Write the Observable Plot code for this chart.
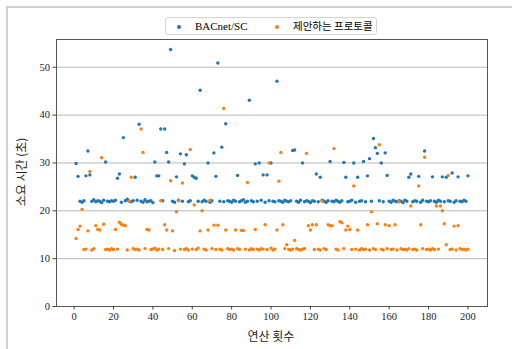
<!DOCTYPE html>
<html>
<head>
<meta charset="utf-8">
<script src="https://cdn.jsdelivr.net/npm/d3@7"></script>
<script src="https://cdn.jsdelivr.net/npm/@observablehq/plot@0.6"></script>
<style>
  html, body { margin: 0; padding: 0; background: #fff; }
  #wrap { position: relative; width: 512px; height: 349px; overflow: hidden; }
  #border { position: absolute; left: 6px; top: 6px; width: 600px; height: 400px; border-left: 2px solid #d0d0d0; border-top: 2px solid #d0d0d0; box-sizing: border-box; }
  #legend { position: absolute; left: 165px; top: 17px; width: 212px; height: 18px; border: 1px solid #d4d4d4; border-radius: 3px; background: #fff; box-sizing: border-box; font-size: 11px; }
  #legend .dot { position: absolute; top: 7px; width: 4px; height: 4px; border-radius: 50%; }
  #legend .lab { position: absolute; top: 1px; line-height: 14px; white-space: nowrap; }
  .xlab { position: absolute; left: 0; width: 542px; top: 327px; text-align: center; font-family: "Noto Sans CJK KR", sans-serif; font-size: 12px; color: #222; }
  .ylab { position: absolute; left: 20px; top: 172px; transform: translate(-50%, -50%) rotate(-90deg); font-family: "Noto Sans CJK KR", sans-serif; font-size: 12px; color: #222; white-space: nowrap; }
  svg { position: absolute; left: 0; top: 0; }
</style>
</head>
<body>
<div id="wrap">
  <div id="border"></div>
  <div id="chart"></div>
  <div id="legend"></div>
  <div class="xlab" id="xlab"></div>
  <div class="ylab" id="ylab"></div>
</div>
<script>
const seriesNames = ["BACnet/SC", "제안하는 프로토콜"];
const seriesColors = ["#1f77b4", "#ff7f0e"];
const xLabel = "연산 횟수";
const yLabel = "소요 시간 (초)";
const xTicks = [0, 20, 40, 60, 80, 100, 120, 140, 160, 180, 200];
const yTicks = [0, 10, 20, 30, 40, 50];

const bacnet = [
  29.9, 27.2, 22.0, 21.8, 22.1, 27.3, 32.5, 27.5, 22.0, 22.3,
  21.9, 22.1, 22.0, 21.7, 22.2, 30.2, 22.0, 21.9, 22.1, 22.0,
  22.2, 26.8, 27.7, 21.8, 35.3, 22.1, 22.4, 22.0, 21.9, 22.1,
  27.0, 22.2, 38.1, 22.0, 21.8, 22.3, 21.9, 22.0, 22.1, 21.7,
  30.2, 27.3, 27.3, 37.1, 22.1, 37.1, 32.2, 30.2, 53.7, 22.0,
  21.8, 27.1, 22.2, 31.9, 22.0, 29.8, 31.7, 21.9, 22.1, 27.3,
  27.0, 26.8, 22.0, 45.2, 21.9, 22.2, 22.0, 30.0, 21.8, 22.1,
  32.1, 27.2, 50.9, 22.0, 33.3, 21.9, 38.2, 22.1, 22.0, 21.8,
  22.2, 22.0, 27.4, 21.9, 22.1, 22.3, 21.8, 22.0, 43.1, 22.1,
  21.9, 29.8, 22.0, 30.0, 22.2, 27.5, 21.8, 27.5, 22.1, 30.0,
  22.0, 21.9, 47.1, 22.1, 22.0, 21.8, 22.2, 22.0, 21.9, 22.1,
  32.6, 32.7, 22.0, 21.8, 22.2, 30.0, 21.9, 22.1, 22.0, 21.7,
  22.1, 22.0, 27.7, 21.9, 27.0, 22.2, 22.0, 21.8, 22.1, 30.3,
  22.0, 21.9, 22.2, 22.0, 21.8, 22.1, 30.1, 27.0, 21.9, 22.0,
  22.2, 30.0, 21.8, 27.0, 22.0, 22.1, 30.3, 21.9, 27.3, 30.9,
  22.0, 35.1, 33.2, 32.0, 22.1, 30.0, 21.9, 32.1, 27.4, 22.0,
  21.8, 22.2, 22.0, 21.9, 22.1, 22.0, 21.7, 22.2, 22.0, 27.0,
  27.7, 21.9, 22.1, 22.0, 27.2, 21.8, 22.2, 32.5, 22.0, 21.9,
  22.1, 27.1, 22.0, 21.8, 22.2, 22.0, 27.1, 21.9, 27.0, 22.1,
  22.0, 27.9, 21.8, 22.1, 27.1, 22.0, 21.9, 22.2, 22.0, 27.3
];

const proposed = [
  14.2, 16.1, 16.8, 20.3, 11.9, 12.0, 15.8, 28.2, 11.8, 12.1,
  16.9, 16.1, 16.0, 31.1, 17.2, 11.9, 12.0, 11.8, 12.1, 11.9,
  16.1, 12.0, 17.6, 17.2, 17.0, 16.9, 11.8, 22.0, 27.0, 12.1,
  11.9, 12.0, 11.8, 37.1, 32.2, 12.1, 16.1, 16.0, 11.9, 12.0,
  12.2, 11.8, 12.0, 22.1, 11.9, 17.1, 16.0, 12.1, 26.3, 15.8,
  11.7, 19.8, 22.1, 12.0, 25.8, 11.9, 12.1, 11.8, 32.8, 12.0,
  21.2, 11.9, 12.2, 15.8, 20.0, 12.0, 11.8, 16.0, 22.2, 12.1,
  17.0, 11.9, 17.0, 12.0, 11.8, 41.4, 16.0, 12.1, 11.9, 12.0,
  11.8, 16.0, 12.1, 11.9, 15.9, 15.9, 12.0, 25.9, 11.8, 12.1,
  11.9, 16.1, 12.0, 11.8, 12.1, 12.0, 17.1, 11.9, 30.0, 12.2,
  11.8, 12.0, 16.0, 26.2, 32.2, 17.1, 12.1, 12.9, 11.9, 11.8,
  12.0, 13.8, 12.1, 11.9, 11.8, 12.0, 12.1, 32.0, 16.9, 16.0,
  17.1, 11.9, 17.1, 12.0, 11.8, 22.0, 12.1, 11.9, 17.1, 16.9,
  16.9, 33.0, 12.0, 11.8, 17.7, 17.5, 12.1, 16.0, 16.8, 16.1,
  11.9, 25.2, 12.0, 16.0, 11.8, 12.1, 11.9, 12.0, 17.1, 11.8,
  19.8, 12.1, 11.9, 17.3, 33.8, 12.0, 11.8, 17.1, 12.1, 16.9,
  11.9, 12.0, 17.1, 11.8, 21.9, 12.1, 11.9, 12.0, 11.8, 12.1,
  21.0, 11.9, 12.0, 11.8, 25.2, 17.1, 12.1, 31.2, 11.9, 12.0,
  11.8, 12.1, 11.9, 21.0, 12.0, 21.0, 20.0, 17.3, 12.9, 27.4,
  11.9, 12.0, 16.8, 11.8, 16.9, 12.1, 11.9, 12.0, 11.8, 12.0
];

const rowsA = bacnet.map((v, i) => ({x: i + 1, y: v}));
const rowsB = proposed.map((v, i) => ({x: i + 1, y: v}));

const chart = Plot.plot({
  width: 512,
  height: 349,
  marginTop: 39,
  marginBottom: 43,
  marginLeft: 56,
  marginRight: 25,
  style: {fontFamily: "'Liberation Serif', serif", fontSize: "10.5px", color: "#222", background: "transparent"},
  x: {domain: [-8.95, 209.95]},
  y: {domain: [0, 55.8]},
  marks: [
    Plot.gridY(yTicks, {stroke: "#b0b0b0", strokeOpacity: 1, strokeWidth: 0.9}),
    Plot.dot(rowsA, {x: "x", y: "y", r: 1.7, fill: seriesColors[0], stroke: null}),
    Plot.dot(rowsB, {x: "x", y: "y", r: 1.7, fill: seriesColors[1], stroke: null}),
    Plot.frame({stroke: "#555", strokeWidth: 1}),
    Plot.axisX(xTicks, {tickSize: 3.5, tickPadding: 3, label: null, stroke: "#444"}),
    Plot.axisY(yTicks, {tickSize: 3.5, tickPadding: 3, label: null, stroke: "#444"})
  ]
});
document.getElementById("chart").appendChild(chart);

const legend = document.getElementById("legend");
const lpos = [[11, 29], [109, 127]];
seriesNames.forEach((name, i) => {
  const d = document.createElement("div");
  d.className = "dot";
  d.style.left = lpos[i][0] + "px";
  d.style.background = seriesColors[i];
  legend.appendChild(d);
  const t = document.createElement("div");
  t.className = "lab";
  t.style.left = lpos[i][1] + "px";
  t.style.fontFamily = i === 0 ? "'Liberation Serif', serif" : "'Noto Sans CJK KR', sans-serif";
  t.style.fontSize = i === 0 ? "11px" : "10.5px";
  t.textContent = name;
  legend.appendChild(t);
});
document.getElementById("xlab").textContent = xLabel;
document.getElementById("ylab").textContent = yLabel;
</script>
</body>
</html>
